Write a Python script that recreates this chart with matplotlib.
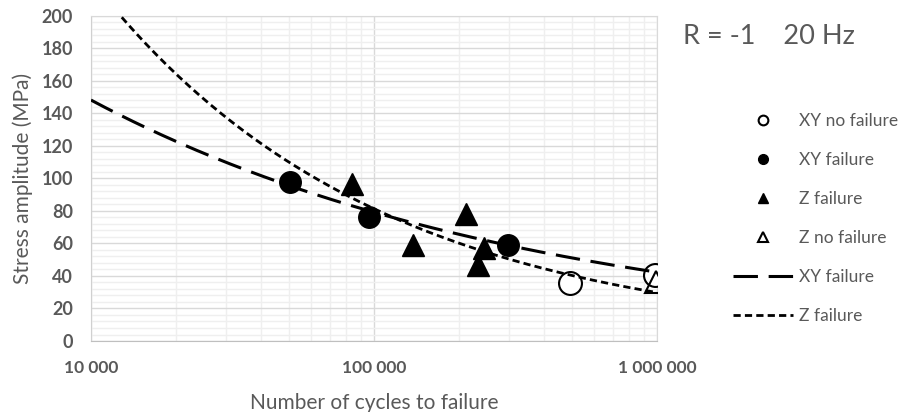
import numpy as np
import matplotlib
matplotlib.use("Agg")
import matplotlib.pyplot as plt
from matplotlib.lines import Line2D
from matplotlib.ticker import LogLocator, MultipleLocator, FixedLocator, NullFormatter

plt.rcParams["font.family"] = ["Lato", "DejaVu Sans"]

# Test results: cycles to failure and stress amplitude (MPa)
xy_fail_n = [50500, 96200, 298500]
xy_fail_s = [97.7, 76.2, 59]
xy_nofail_n = [494000, 989000]
xy_nofail_s = [35.6, 40.6]
z_fail_n = [83800, 138000, 212000, 244000, 234000]
z_fail_s = [96.5, 59, 78, 57, 47]
z_nofail_n = [990000]
z_nofail_s = [36]

# Power-law trendlines S = a * N^b
xy_trend_a, xy_trend_b = 1814.0, -0.272
xy_trend_range = [10000, 1000000]
z_trend_a, z_trend_b = 12312.0, -0.436
z_trend_range = [12850, 1000000]

tick_vals = [1e4, 1e5, 1e6]
tick_labels = ["10 000", "100 000", "1 000 000"]

txt = "#595959"

fig = plt.figure(figsize=(9.06, 4.12), dpi=100)
ax = fig.add_axes([0.1004, 0.1723, 0.6246, 0.7897])

ax.set_xscale("log")
ax.set_xlim(1e4, 1e6)
ax.set_ylim(0, 200)

# grid: light minor lines, darker major ones
ax.xaxis.set_major_locator(FixedLocator(tick_vals))
ax.xaxis.set_minor_locator(LogLocator(base=10, subs=np.arange(2, 10)))
ax.xaxis.set_minor_formatter(NullFormatter())
ax.yaxis.set_major_locator(MultipleLocator(20))
ax.yaxis.set_minor_locator(MultipleLocator(4))
ax.grid(which="minor", color="#efefef", lw=1.0, zorder=0)
ax.grid(which="major", color="#d9d9d9", lw=1.0, zorder=0)
ax.set_axisbelow(True)
for side in ["left", "bottom", "right", "top"]:
    ax.spines[side].set_color("#d9d9d9")
ax.spines["bottom"].set_color("#bfbfbf")
ax.spines["left"].set_color("#d0d0d0")

ax.set_xticks(tick_vals)
ax.set_xticklabels(tick_labels)
ax.tick_params(which="both", length=0)
ax.tick_params(axis="x", pad=14, labelsize=12.5, labelcolor=txt)
ax.tick_params(axis="y", pad=13, labelsize=13, labelcolor=txt)
for lab in ax.get_xticklabels() + ax.get_yticklabels():
    lab.set_fontweight("bold")

ax.set_xlabel("Number of cycles to failure", fontsize=15, color=txt, labelpad=12)
ax.set_ylabel("Stress amplitude (MPa)", fontsize=15, color=txt, labelpad=6)

# data points
ax.plot(xy_nofail_n, xy_nofail_s, "o", ms=16.5, mfc="white", mec="black", mew=1.5, ls="none", zorder=3)
ax.plot(xy_fail_n, xy_fail_s, "o", ms=15.5, color="black", ls="none", zorder=3)
ax.plot(z_fail_n, z_fail_s, "^", ms=16.5, color="black", ls="none", zorder=3)
ax.plot(z_nofail_n, z_nofail_s, "^", ms=16.5, mfc="none", mec="black", mew=1.5, ls="none", zorder=3)

# trendlines
n_xy = np.geomspace(*xy_trend_range, 200)
ax.plot(n_xy, xy_trend_a * n_xy ** xy_trend_b, color="black", lw=2.2, dashes=(8, 3.5), zorder=4)
n_z = np.geomspace(*z_trend_range, 200)
ax.plot(n_z, z_trend_a * n_z ** z_trend_b, color="black", lw=2.0, dashes=(2.6, 1.5), zorder=4)

fig.text(683 / 906, 1 - 36 / 412, "R = -1    20 Hz", fontsize=19.5, color=txt, va="center")

handles = [
    Line2D([], [], marker="o", ms=7, mfc="white", mec="black", mew=1.5, ls="none"),
    Line2D([], [], marker="o", ms=7, color="black", ls="none"),
    Line2D([], [], marker="^", ms=7, color="black", ls="none"),
    Line2D([], [], marker="^", ms=7, mfc="white", mec="black", mew=1.5, ls="none"),
    Line2D([], [], color="black", lw=2.2, dashes=(8, 3.5)),
    Line2D([], [], color="black", lw=2.0, dashes=(2.6, 1.5)),
]
labels = ["XY no failure", "XY failure", "Z failure", "Z no failure", "XY failure", "Z failure"]
leg = fig.legend(handles, labels, loc="upper left", bbox_to_anchor=(733 / 906, 1 - 113 / 412),
                 frameon=False, fontsize=12.5, labelspacing=1.33, handlelength=3.45,
                 handletextpad=0.35, borderpad=0, borderaxespad=0)
for t in leg.get_texts():
    t.set_color(txt)

fig.savefig("out.png", dpi=100)
